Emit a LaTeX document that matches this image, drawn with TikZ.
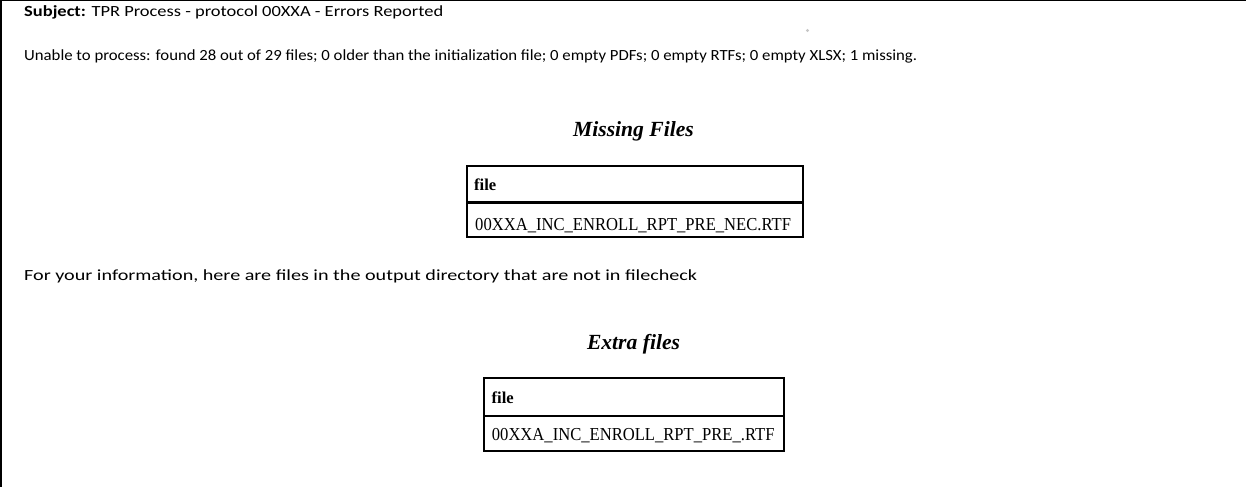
\documentclass[tikz,border=0pt]{standalone}
\usepackage{fontspec}
\usepackage{graphicx}
\setmainfont{Liberation Serif}
\newfontfamily\mailfont{Carlito}

% a line of mail text stretched to a fixed width, height kept
\newcommand{\mailline}[2]{\resizebox{#1}{\height}{#2}}
% table cell text, slightly taller than the plain face
\newcommand{\celltext}[1]{\resizebox{\width}{1.1\height}{#1}}

\begin{document}
\begin{tikzpicture}[x=1pt,y=-1pt,
  body/.style={anchor=base west, inner sep=0pt, font=\mailfont\fontsize{15.5}{17}\selectfont},
  ttl/.style={anchor=base, inner sep=0pt, font=\fontsize{21.6}{24}\selectfont\bfseries\itshape},
  cell/.style={anchor=base west, inner sep=0pt, font=\fontsize{16.6}{19}\selectfont},
  hcell/.style={cell, font=\fontsize{16.6}{19}\selectfont\bfseries},
  tbl/.style={draw, line width=2pt, inner sep=0pt},
  rowsep/.style={line width=2.6pt}]
\useasboundingbox (0,0) rectangle (1246,487);
\fill[white] (0,0) rectangle (1246,487);
% window frame edges
\fill[black] (0,0) rectangle (1246,1.3);
\fill[black] (0,0) rectangle (2,487);
% stray speck
\fill[gray!45] (807.5,30.5) circle (1.6);

% message body
\node[body] (subj) at (24,17) {\mailline{419pt}{\textbf{Subject:} TPR Process - protocol 00XXA - Errors Reported}};
\node[body] (summary) at (24,61) {\mailline{893pt}{Unable to process: found 28 out of 29 files; 0 older than the initialization file; 0 empty PDFs; 0 empty RTFs; 0 empty XLSX; 1 missing.}};
\node[body] (info) at (24,280) {\mailline{673pt}{For your information, here are files in the output directory that are not in filecheck}};

% missing files table
\node[ttl] (missT) at (633.5,136) {Missing Files};
\node[tbl, minimum width=336pt, minimum height=71pt] (miss) at (635,201) {};
\draw[rowsep] (miss.west |- 0,202.6) -- (miss.east |- 0,202.6);
\node[hcell] (missH) at (474,190) {file};
\node[cell] (missD) at (475,230) {\celltext{00XXA\_INC\_ENROLL\_RPT\_PRE\_NEC.RTF}};

% extra files table
\node[ttl] (extraT) at (633.5,349) {Extra files};
\node[tbl, minimum width=299.7pt, minimum height=72.4pt] (extra) at (634.2,414.5) {};
\draw[rowsep] (extra.west |- 0,416) -- (extra.east |- 0,416);
\node[hcell] (extraH) at (491.5,403) {file};
\node[cell] (extraD) at (491.7,440) {\celltext{00XXA\_INC\_ENROLL\_RPT\_PRE\_.RTF}};
\end{tikzpicture}
\end{document}
